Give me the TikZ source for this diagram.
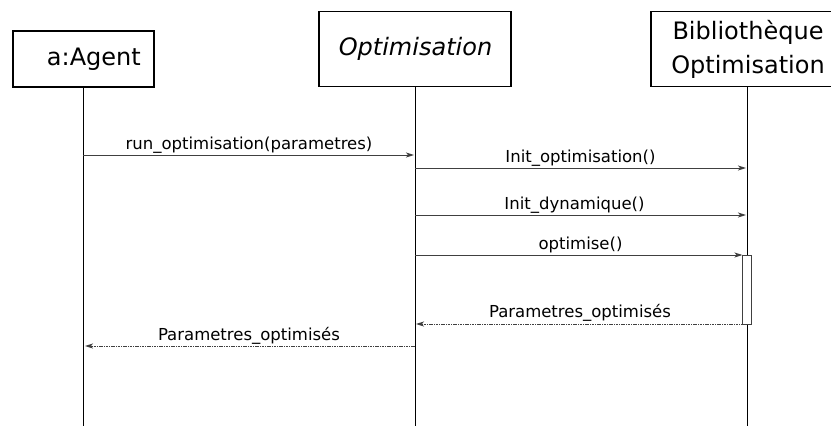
\documentclass[tikz,border=0pt]{standalone}
\usepackage{fontspec}
\setmainfont{DejaVu Sans}
\usetikzlibrary{arrows.meta}
\begin{document}
\begin{tikzpicture}[x=1pt,y=-1pt,
  actor/.style={draw=black,line width=1.8pt,fill=white,inner sep=0pt},
  ttl/.style={font=\fontsize{24}{33}\selectfont,inner sep=0pt,anchor=base},
  life/.style={draw=black,line width=0.9pt},
  msg/.style={draw=black!75,line width=1pt,-{Stealth[length=8pt,width=5pt,inset=2pt,fill=black]}},
  ret/.style={draw=black!75,line width=1pt,dash pattern=on 1.6pt off 0.8pt,-{Stealth[length=8pt,width=5pt,inset=2pt,fill=black]}},
  lbl/.style={font=\fontsize{16.5}{18}\selectfont,inner sep=0pt,anchor=base}]
\useasboundingbox (0,0) rectangle (831,426);
% lifelines
\coordinate (la) at (83,87); \coordinate (lab) at (83,426);
\coordinate (lo) at (415,87); \coordinate (lob) at (415,426);
\coordinate (lb) at (747,87); \coordinate (lbb) at (747,426);
\draw[life] (la) -- (lab);
\draw[life] (lo) -- (lob);
\draw[life] (lb) -- (lbb);
% actors
\node[actor,minimum width=141pt,minimum height=56pt] (agent) at (83.5,59) {};
\node[ttl,anchor=base east] (agentt) at (141,65) {a:Agent};
\node[actor,minimum width=192pt,minimum height=75pt] (opt) at (415,49) {};
\node[ttl] (optt) at (415.5,55) {\itshape Optimisation};
\node[actor,minimum width=192pt,minimum height=75pt] (bib) at (747,49) {};
\node[ttl] (bibt1) at (748,39) {Biblioth\`eque};
\node[ttl] (bibt2) at (748,73) {Optimisation};
% activation
\node[draw=black!75,line width=1pt,fill=white,minimum width=9pt,minimum height=69pt,inner sep=0pt] (act) at (747,289.5) {};
% coordinates for messages
\coordinate (m1a) at (83,155); \coordinate (m1b) at (414,155);
\coordinate (m2a) at (415,168); \coordinate (m2b) at (746,168);
\coordinate (m3a) at (415,215); \coordinate (m3b) at (746,215);
\coordinate (m4a) at (415,255); \coordinate (m4b) at (742.5,255);
\coordinate (m5a) at (742.5,324); \coordinate (m5b) at (416,324);
\coordinate (m6a) at (415,346); \coordinate (m6b) at (85,346);
\draw[msg] (m1a) -- (m1b);
\draw[msg] (m2a) -- (m2b);
\draw[msg] (m3a) -- (m3b);
\draw[msg] (m4a) -- (m4b);
\draw[ret] (m5a) -- (m5b);
\draw[ret] (m6a) -- (m6b);
\node[lbl] (t1) at (249,149) {run\_optimisation(parametres)};
\node[lbl] (t2) at (580.5,162) {Init\_optimisation()};
\node[lbl] (t3) at (574.5,209) {Init\_dynamique()};
\node[lbl] (t4) at (580.5,249) {optimise()};
\node[lbl] (t5) at (580,317) {Parametres\_optimisés};
\node[lbl] (t6) at (249,340) {Parametres\_optimisés};
\end{tikzpicture}
\end{document}
